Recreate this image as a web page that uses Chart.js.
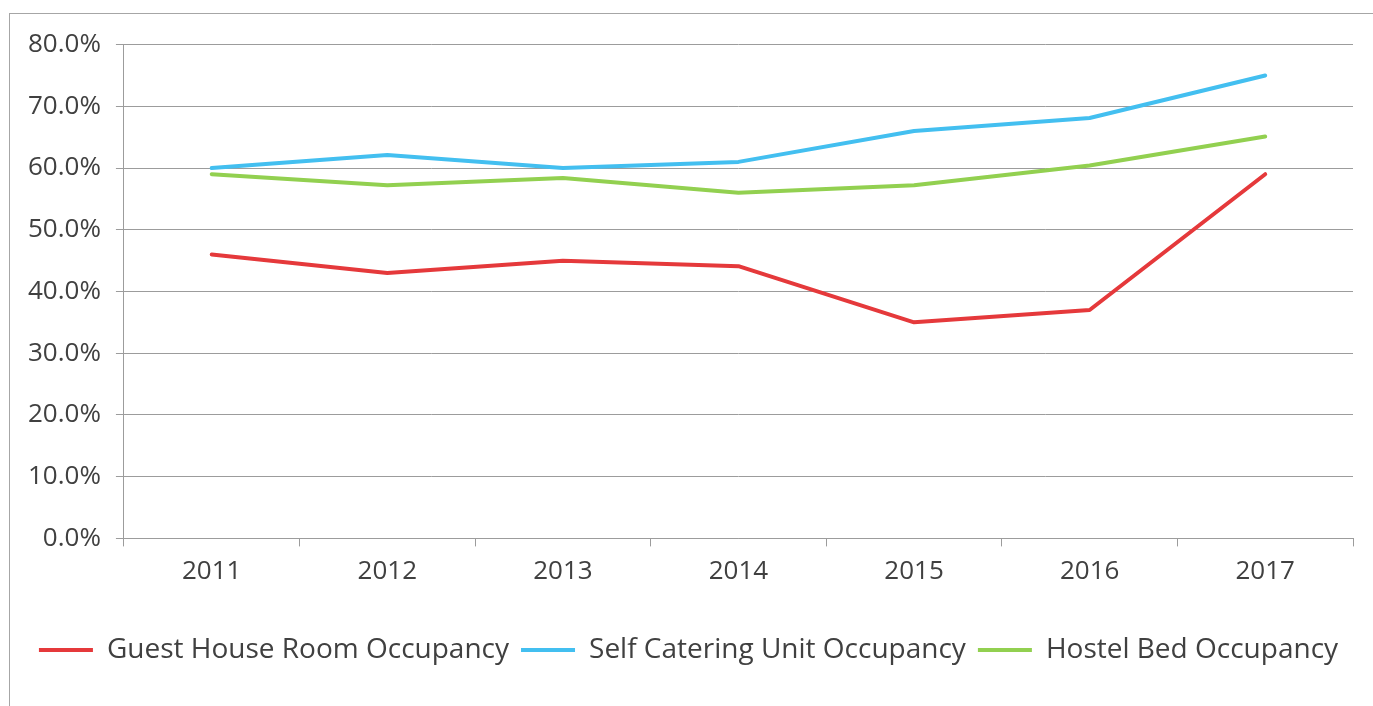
<!DOCTYPE html>
<html>
<head>
<meta charset="utf-8">
<script src="https://cdn.jsdelivr.net/npm/chart.js@4"></script>
<style>
  html, body { margin: 0; padding: 0; background: #fff; overflow: hidden; }
  #frame {
    position: absolute; left: 9px; top: 13px;
    width: 1400px; height: 720px;
    border: 1px solid #a6a6a6; box-sizing: border-box;
  }
  #wrap { position: absolute; left: 0; top: 0; width: 1381px; height: 700px; }
</style>
</head>
<body>
<div id="frame">
  <div id="wrap"><canvas id="occupancy"></canvas></div>
</div>
<script>
  const years = ['2011', '2012', '2013', '2014', '2015', '2016', '2017'];

  const guestHouse = [46, 43, 45, 44.1, 35, 37, 59];
  const selfCatering = [60, 62.1, 60, 61, 66, 68.1, 75];
  const hostelBed = [59, 57.2, 58.4, 56, 57.2, 60.4, 65.1];

  const seriesNames = [
    'Guest House Room Occupancy',
    'Self Catering Unit Occupancy',
    'Hostel Bed Occupancy'
  ];
  const seriesColours = ['#e5393b', '#43bff0', '#92d050'];

  const fontFamily = "'Open Sans', 'Liberation Sans', sans-serif";
  const textColour = '#404040';
  const gridColour = '#9c9c9c';

  function makeSet(i, values) {
    return {
      label: seriesNames[i],
      data: values,
      borderColor: seriesColours[i],
      backgroundColor: seriesColours[i],
      borderWidth: 4,
      borderCapStyle: 'round',
      borderJoinStyle: 'round',
      pointRadius: 0,
      pointHoverRadius: 0,
      pointStyle: 'line',
      tension: 0,
      fill: false
    };
  }

  const data = {
    labels: years,
    datasets: [
      makeSet(0, guestHouse),
      makeSet(1, selfCatering),
      makeSet(2, hostelBed)
    ]
  };

  const config = {
    type: 'line',
    data: data,
    options: {
      responsive: true,
      maintainAspectRatio: false,
      animation: false,
      layout: { padding: { left: 14, right: 38, top: 26, bottom: 40 } },
      plugins: {
        tooltip: { enabled: false },
        legend: {
          position: 'bottom',
          labels: {
            usePointStyle: true,
            pointStyleWidth: 54,
            boxHeight: 4,
            padding: 12,
            color: textColour,
            font: { family: fontFamily, size: 28 }
          }
        }
      },
      scales: {
        x: {
          offset: true,
          grid: {
            offset: true,
            drawOnChartArea: false,
            drawTicks: true,
            tickLength: 8,
            color: gridColour
          },
          border: { display: true, color: gridColour },
          ticks: {
            padding: 10,
            color: textColour,
            font: { family: fontFamily, size: 26 }
          },
          afterFit: function (scale) { scale.height += 26.4; }
        },
        y: {
          min: 0,
          max: 80,
          grid: { color: gridColour, tickLength: 8 },
          border: { display: true, color: gridColour },
          ticks: {
            stepSize: 10,
            padding: 15,
            color: textColour,
            font: { family: fontFamily, size: 26 },
            callback: function (v) { return v.toFixed(1) + '%'; }
          },
          afterFit: function (scale) { scale.width -= 11; }
        }
      }
    }
  };

  const chart = new Chart(document.querySelector('#occupancy'), config);
</script>
</body>
</html>
